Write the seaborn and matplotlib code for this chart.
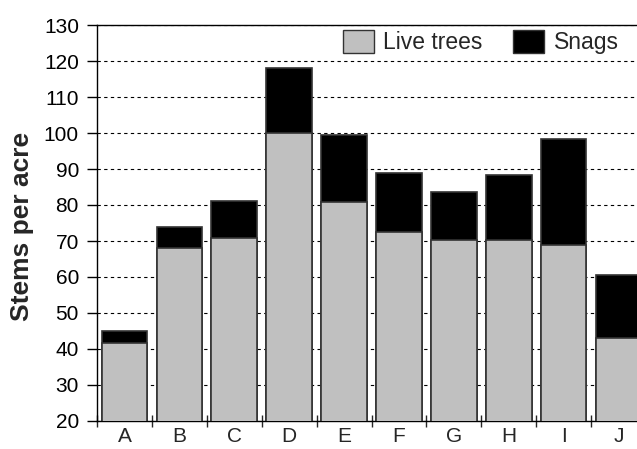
import seaborn as sns
import matplotlib.pyplot as plt
import matplotlib.patches as mpatches
from matplotlib.ticker import MultipleLocator
import pandas as pd

plots = ['A', 'B', 'C', 'D', 'E', 'F', 'G', 'H', 'I', 'J']
live_trees = [41.6, 68.0, 70.9, 100.0, 80.9, 72.4, 70.2, 70.2, 69.0, 43.1]
total_stems = [45.1, 74.0, 81.1, 118.1, 99.4, 89.0, 83.7, 88.4, 98.4, 60.6]

df = pd.DataFrame({'plot': plots, 'live': live_trees, 'total': total_stems})

sns.set_style('white')
plt.rcParams['font.family'] = ['Liberation Sans', 'DejaVu Sans']

fig = plt.figure(figsize=(6.37, 4.49), dpi=100)
ax = fig.add_axes([97 / 637, 28 / 449, 549 / 637, 396 / 449])

# snags drawn as full height in black, live trees on top in grey
sns.barplot(data=df, x='plot', y='total', color='black', width=0.83,
            edgecolor='#333333', linewidth=1.2, saturation=1, ax=ax, zorder=2)
sns.barplot(data=df, x='plot', y='live', color='#c0c0c0', width=0.83,
            edgecolor='#333333', linewidth=1.2, saturation=1, ax=ax, zorder=3)

ax.set_ylim(20, 130)
ax.set_xlim(-0.5, len(plots) - 0.5)
ax.yaxis.set_major_locator(MultipleLocator(10))
ax.grid(axis='y', color='black', linestyle=(0, (3, 3)), linewidth=0.8)
ax.set_axisbelow(True)

for side in ['left', 'bottom', 'top']:
    ax.spines[side].set_visible(True)
    ax.spines[side].set_color('black')
    ax.spines[side].set_linewidth(1)
ax.spines['right'].set_visible(False)

ax.tick_params(axis='y', direction='out', length=7, width=1, left=True,
               labelsize=15, colors='black', pad=6)
ax.set_xticks([i - 0.5 for i in range(len(plots) + 1)], minor=True)
ax.tick_params(axis='x', which='minor', direction='inout', length=8, width=1, bottom=True)
ax.tick_params(axis='x', which='major', length=0, labelsize=15, pad=4)

ax.set_xlabel('')
ax.set_ylabel('')
fig.text(22 / 637, 0.4955, 'Stems per acre', rotation=90, ha='center', va='center',
         fontsize=19, fontweight='bold')

handles = [mpatches.Patch(facecolor='#c0c0c0', edgecolor='#333333', label='Live trees'),
           mpatches.Patch(facecolor='black', edgecolor='#333333', label='Snags')]
fig.legend(handles=handles, loc='upper right', bbox_to_anchor=(619 / 637, 1 - 30 / 449),
           ncol=2, frameon=False, fontsize=16.5, handlelength=1.35, handleheight=1.2,
           handletextpad=0.43, columnspacing=1.33, borderaxespad=0, borderpad=0)

plt.savefig('out.png', dpi=100)
